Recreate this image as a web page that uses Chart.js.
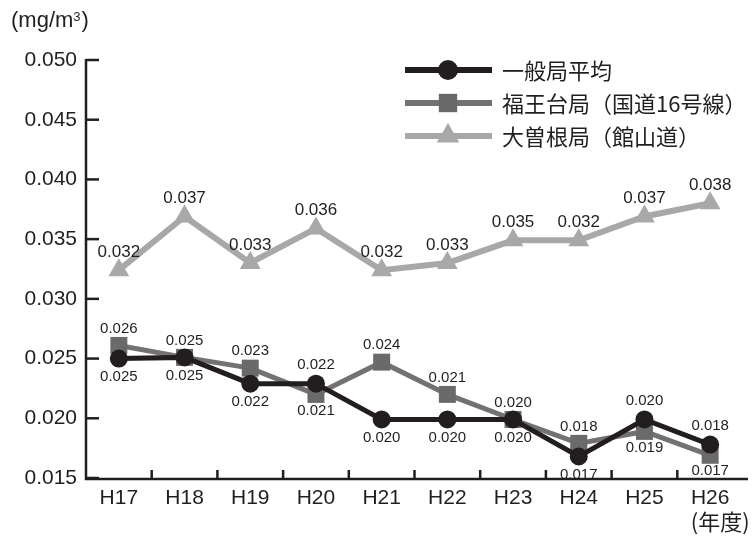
<!DOCTYPE html>
<html>
<head>
<meta charset="utf-8">
<script src="https://cdn.jsdelivr.net/npm/chart.js@4.4.1/dist/chart.umd.min.js"></script>
<style>
  html, body { margin: 0; padding: 0; background: #fff; }
</style>
</head>
<body>
<canvas id="c" width="755" height="536"></canvas>
<script>
const years = ['H17','H18','H19','H20','H21','H22','H23','H24','H25','H26'];
const seriesNames = ['一般局平均', '福王台局（国道16号線）', '大曽根局（館山道）'];

// plotted values (as placed in the picture)
const ippan    = [0.0250, 0.0251, 0.0229, 0.0229, 0.0199, 0.0199, 0.0199, 0.0168, 0.0199, 0.0178];
const fukuo    = [0.0261, 0.0251, 0.0242, 0.0220, 0.0247, 0.0220, 0.0199, 0.0179, 0.0189, 0.0169];
const ozone    = [0.0324, 0.0369, 0.0330, 0.0359, 0.0324, 0.0330, 0.0349, 0.0349, 0.0369, 0.0380];

// printed labels
const ippanLabels = ['0.025','0.025','0.022','0.022','0.020','0.020','0.020','0.017','0.020','0.018'];
const fukuoLabels = ['0.026','0.025','0.023','0.021','0.024','0.021','0.020','0.018','0.019','0.017'];
const ozoneLabels = ['0.032','0.037','0.033','0.036','0.032','0.033','0.035','0.032','0.037','0.038'];
// label side: 1 = above, -1 = below
const ippanSide = [-1,-1,-1, 1,-1,-1,-1,-1, 1, 1];
const fukuoSide = [ 1, 1, 1,-1, 1, 1, 1, 1,-1,-1];
const ozoneSide = [ 1, 1, 1, 1, 1, 1, 1, 1, 1, 1];

const yTicks = [0.015, 0.020, 0.025, 0.030, 0.035, 0.040, 0.045, 0.050];

const INK   = '#221e1f';
const GRAY  = '#727272';
const LIGHT = '#a8a8a8';
const LATIN = '"Liberation Sans", Arial, sans-serif';
const CJK   = '"Noto Sans CJK JP", "Noto Sans", sans-serif';

const labelSets = [
  { text: ippanLabels, side: ippanSide, font: '15px ' + LATIN, up: 19, down: 18 },
  { text: fukuoLabels, side: fukuoSide, font: '15px ' + LATIN, up: 17, down: 16 },
  { text: ozoneLabels, side: ozoneSide, font: '17px "Liberation Sans Narrow", ' + LATIN, up: 18, down: 16 }
];

const decor = {
  id: 'decor',
  afterDraw(chart) {
    const { ctx, chartArea: a, scales: { x, y } } = chart;
    ctx.save();
    ctx.strokeStyle = INK;
    ctx.lineWidth = 2.5;
    ctx.lineCap = 'butt';
    // axes
    ctx.beginPath();
    ctx.moveTo(a.left, y.getPixelForValue(0.050) - 1);
    ctx.lineTo(a.left, a.bottom + 1);
    ctx.lineTo(a.right + 5, a.bottom + 1);
    ctx.stroke();
    // inner y ticks
    yTicks.forEach(v => {
      const py = y.getPixelForValue(v);
      ctx.beginPath();
      ctx.moveTo(a.left, py);
      ctx.lineTo(a.left + 13, py);
      ctx.stroke();
    });
    // inner x ticks between categories
    for (let i = 1; i < years.length; i++) {
      const px = (x.getPixelForValue(i - 1) + x.getPixelForValue(i)) / 2;
      ctx.beginPath();
      ctx.moveTo(px, a.bottom + 1);
      ctx.lineTo(px, a.bottom - 8);
      ctx.stroke();
    }
    // unit texts
    ctx.fillStyle = INK;
    ctx.font = '22px ' + LATIN;
    ctx.textBaseline = 'middle';
    ctx.textAlign = 'left';
    ctx.fillText('(mg/m', 11, 21);
    const w = ctx.measureText('(mg/m').width;
    ctx.font = '13px ' + LATIN;
    ctx.fillText('3', 11 + w, 17);
    const w3 = ctx.measureText('3').width;
    ctx.font = '22px ' + LATIN;
    ctx.fillText(')', 11 + w + w3 + 1, 21);
    ctx.font = '22px ' + CJK;
    ctx.textAlign = 'center';
    ctx.fillText('(年度)', x.getPixelForValue(years.length - 1) + 10, 522);

    // legend
    const rows = [70, 103, 136];
    chart.data.datasets.forEach((ds, i) => {
      const ly = rows[i];
      ctx.strokeStyle = ds.borderColor;
      ctx.lineWidth = 6;
      ctx.beginPath();
      ctx.moveTo(405, ly);
      ctx.lineTo(492, ly);
      ctx.stroke();
      ctx.fillStyle = ds.pointBackgroundColor;
      ctx.strokeStyle = ds.pointBackgroundColor;
      ctx.lineWidth = 0.01;
      Chart.helpers.drawPoint(ctx, { pointStyle: ds.pointStyle, radius: ds.pointRadius + 1, rotation: 0, borderWidth: 0 }, 448, ly);
      ctx.fillStyle = INK;
      ctx.font = '22px ' + CJK;
      ctx.textAlign = 'left';
      ctx.textBaseline = 'middle';
      ctx.fillText(seriesNames[i], 502, ly + 1);
    });

    // value labels
    ctx.fillStyle = INK;
    ctx.textAlign = 'center';
    ctx.textBaseline = 'middle';
    chart.data.datasets.forEach((ds, i) => {
      const set = labelSets[i];
      ctx.font = set.font;
      chart.getDatasetMeta(i).data.forEach((pt, j) => {
        const dy = set.side[j] > 0 ? -set.up : set.down;
        ctx.fillText(set.text[j], pt.x, pt.y + dy);
      });
    });
    ctx.restore();
  }
};

new Chart(document.getElementById('c'), {
  type: 'line',
  data: {
    labels: years,
    datasets: [
      { label: seriesNames[0], data: ippan, borderColor: INK, borderWidth: 5,
        pointStyle: 'circle', pointRadius: 9, pointBackgroundColor: INK, pointBorderWidth: 0 },
      { label: seriesNames[1], data: fukuo, borderColor: GRAY, borderWidth: 5,
        pointStyle: 'rect', pointRadius: 12, pointBackgroundColor: '#6a6a6a', pointBorderWidth: 0 },
      { label: seriesNames[2], data: ozone, borderColor: LIGHT, borderWidth: 6,
        pointStyle: 'triangle', pointRadius: 12, pointBackgroundColor: LIGHT, pointBorderWidth: 0 }
    ]
  },
  options: {
    responsive: false,
    animation: false,
    devicePixelRatio: 1,
    layout: { padding: { top: 60, right: 9, bottom: 0, left: 0 } },
    plugins: { legend: { display: false }, tooltip: { enabled: false } },
    elements: { line: { tension: 0 } },
    scales: {
      x: {
        offset: true,
        grid: { display: false, drawTicks: false },
        border: { display: false },
        ticks: { color: INK, font: { size: 21, family: LATIN }, padding: 8, maxRotation: 0 },
        afterFit: s => { s.height = 58; }
      },
      y: {
        min: 0.015, max: 0.050,
        afterBuildTicks: s => { s.ticks = yTicks.map(v => ({ value: v })); },
        grid: { display: false, drawTicks: false },
        border: { display: false },
        ticks: { color: INK, font: { size: 21, family: LATIN }, padding: 9,
                 callback: v => v.toFixed(3) },
        afterFit: s => { s.width = 86; }
      }
    }
  },
  plugins: [decor]
});
</script>
</body>
</html>
